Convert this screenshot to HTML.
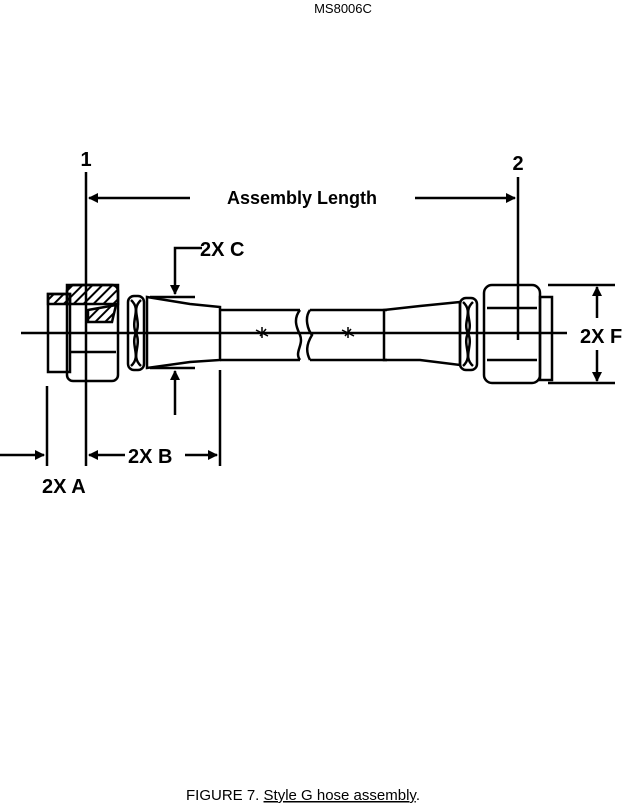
<!DOCTYPE html>
<html><head><style>body{margin:0;background:#fff}svg{display:block}</style></head><body>
<svg width="630" height="804" viewBox="0 0 630 804" xmlns="http://www.w3.org/2000/svg" font-family="Liberation Sans, sans-serif">
<defs>
<marker id="a" markerWidth="10" markerHeight="10" refX="9" refY="5" orient="auto" markerUnits="userSpaceOnUse"><path d="M0,0 L10,5 L0,10 Z" fill="#000"/></marker>
<pattern id="h" width="7" height="7" patternUnits="userSpaceOnUse" patternTransform="rotate(45)"><rect width="2" height="7" fill="#000"/></pattern>
</defs>
<text x="343" y="13" font-size="13" text-anchor="middle">MS8006C</text>
<g stroke="#000" stroke-width="2.5" fill="none">
<line x1="21" y1="333" x2="567" y2="333"/>
<line x1="86" y1="172" x2="86" y2="466"/>
<line x1="518" y1="177" x2="518" y2="340"/>
<rect x="48" y="294" width="22" height="78"/>
<rect x="48" y="294" width="22" height="10" fill="url(#h)"/>
<rect x="67" y="285" width="51" height="96" rx="6"/>
<rect x="67" y="285" width="51" height="19" fill="url(#h)"/>
<path d="M88,310 L116,305 L112,322 L88,322 Z" fill="url(#h)"/>
<path d="M70,352 L116,352"/>
<rect x="128" y="296" width="16" height="74" rx="6"/>
<path d="M131,300 C142,310 130,320 136,333 C142,346 130,356 141,366 M141,300 C130,310 142,320 136,333 C130,346 142,356 131,366"/>
<path d="M147,297 L190,304 L220,307 L220,360 L190,362 L147,368 Z"/>
<line x1="150" y1="297" x2="195" y2="297"/><line x1="150" y1="368" x2="195" y2="368"/>
<path d="M220,310 L300,310 M220,360 L300,360 M300,310 C292,320 298,330 300,335 C304,345 294,352 300,360"/>
<path d="M310,310 L387,310 M310,360 L387,360 M310,310 C304,318 308,330 312,335 C306,345 306,352 310,360"/>
<path d="M384,310 L384,360 L420,360 L460,365 L460,302 L420,306 L384,310 Z"/>
<rect x="460" y="298" width="17" height="72" rx="6"/>
<path d="M463,302 C474,312 462,322 468,333 C474,346 462,356 473,366 M473,302 C462,312 474,322 468,333 C462,346 474,356 463,366"/>
<rect x="484" y="285" width="56" height="98" rx="8"/>
<path d="M487,308 L537,308 M487,360 L537,360"/>
<rect x="540" y="297" width="12" height="83"/>
<line x1="548" y1="285" x2="615" y2="285"/><line x1="548" y1="383" x2="615" y2="383"/>
<line x1="597" y1="318" x2="597" y2="287" marker-end="url(#a)"/>
<line x1="597" y1="350" x2="597" y2="381" marker-end="url(#a)"/>
<polyline points="202,248 175,248 175,294" marker-end="url(#a)"/>
<line x1="175" y1="415" x2="175" y2="371" marker-end="url(#a)"/>
<line x1="190" y1="198" x2="89" y2="198" marker-end="url(#a)"/>
<line x1="415" y1="198" x2="515" y2="198" marker-end="url(#a)"/>
<line x1="220" y1="370" x2="220" y2="466"/>
<line x1="125" y1="455" x2="89" y2="455" marker-end="url(#a)"/>
<line x1="185" y1="455" x2="217" y2="455" marker-end="url(#a)"/>
<line x1="47" y1="386" x2="47" y2="466"/>
<line x1="0" y1="455" x2="44" y2="455" marker-end="url(#a)"/>
</g>
<g stroke="#000" stroke-width="1.5">
<path d="M256,330 L268,336 M260,336 L266,329 M262,327 L262,338"/>
<path d="M342,330 L354,336 M345,336 L351,329 M348,327 L348,338"/>
</g>
<g font-size="20" font-weight="bold">
<text x="86" y="166" text-anchor="middle">1</text>
<text x="518" y="170" text-anchor="middle">2</text>
<text x="302" y="204" text-anchor="middle" font-size="18">Assembly Length</text>
</g>
<g font-size="20" font-weight="bold">
<text x="200" y="256">2X C</text>
<text x="128" y="463">2X B</text>
<text x="42" y="493">2X A</text>
<text x="580" y="343">2X F</text>
</g>
<text x="186" y="800" font-size="15">FIGURE 7.  <tspan text-decoration="underline">Style G hose assembly</tspan>.</text>
</svg>
</body></html>
